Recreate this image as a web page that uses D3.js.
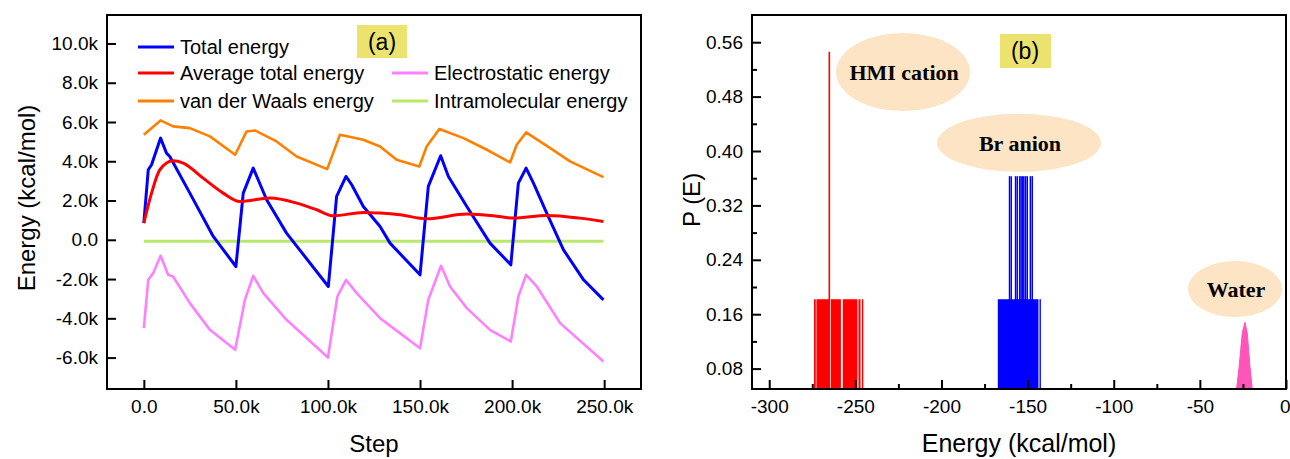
<!DOCTYPE html>
<html lang="en">
<head>
    <meta charset="UTF-8">
    <title>Energy and P(E)</title>
    <script src="https://d3js.org/d3.v7.min.js"></script>
    <style>
        body { margin: 0; background: #fff; }
        svg text { font-family: "Liberation Sans", Arial, sans-serif; fill: #000; }
        .serif { font-family: "Liberation Serif", "Times New Roman", serif; font-weight: bold; }
    </style>
</head>
<body>
<svg id="chart" width="1290" height="459"></svg>
<script>
    // ---- panel (a): energy vs step ----
    var totalSteps = [0, 2400, 4200, 9100, 12300, 14100, 25000, 37700, 50000, 54000, 59400, 66700, 77500, 100200, 104700, 109800, 112900, 119200, 128300, 133700, 150000, 154500, 161200, 165400, 175400, 188000, 199300, 203400, 207600, 211600, 218800, 227900, 238800, 249600];
    var totalEnergy = [851, 3567, 3822, 5180, 4416, 4246, 2378, 170, -1360, 2378, 3652, 2038, 340, -2378, 2208, 3227, 2803, 1699, 680, -170, -1784, 2718, 4280, 3227, 1699, -170, -1274, 2888, 3652, 2888, 1359, -510, -2038, -3058];

    var avgSteps = [0, 4200, 8700, 15900, 21400, 32200, 43100, 52200, 68500, 83000, 93900, 102900, 119200, 128300, 139100, 153600, 175400, 189800, 200700, 218800, 236900, 249600];
    var avgEnergy = [851, 2378, 3567, 4026, 3907, 3142, 2378, 1954, 2123, 1868, 1529, 1223, 1393, 1359, 1274, 1070, 1308, 1223, 1104, 1240, 1104, 934];

    var vdwSteps = [0, 9100, 15900, 25000, 35900, 49600, 55800, 60300, 72100, 83000, 99600, 106500, 119200, 128300, 137300, 149600, 153600, 160500, 173600, 186300, 198900, 202500, 207600, 220700, 231500, 249600];
    var vdwEnergy = [5350, 6080, 5776, 5690, 5266, 4332, 5520, 5571, 5010, 4246, 3601, 5350, 5096, 4755, 4077, 3737, 4755, 5641, 5180, 4587, 3941, 4841, 5469, 4671, 3992, 3193];

    var elecSteps = [0, 2400, 5100, 9100, 13200, 15900, 25000, 35900, 49600, 54900, 59400, 64900, 77500, 100000, 105100, 109800, 115600, 128300, 139100, 150000, 154500, 161400, 166300, 175400, 188000, 199300, 203400, 207600, 213400, 226100, 249600];
    var elecEnergy = [-4501, -2038, -1699, -815, -1784, -1869, -3227, -4587, -5606, -3058, -1835, -2718, -4077, -5997, -2888, -2038, -2718, -3992, -4755, -5521, -3058, -1325, -2378, -3482, -4587, -5181, -2888, -1784, -2378, -4246, -6201];

    var intraSteps = [0, 50000, 100000, 150000, 200000, 249600];
    var intraEnergy = [-80, -80, -80, -80, -80, -80];

    var stepTicks = [0, 50000, 100000, 150000, 200000, 250000];
    var energyTicks = [-6000, -4000, -2000, 0, 2000, 4000, 6000, 8000, 10000];

    // ---- panel (b): P(E) distributions ----
    var hmiBins = [[-274.0, -273.0], [-272.6, -264.8], [-264.2, -258.4], [-257.3, -248.8], [-248.2, -247.0], [-246.2, -245.4]];
    var hmiP = 0.182;
    var hmiPeakE = [-265.1];
    var hmiPeakP = 0.546;

    var brBins = [[-167.3, -143.7], [-143.1, -142.3]];
    var brP = 0.182;
    var brSticks = [-160.5, -159.5, -157.0, -156.0, -154.6, -153.8, -153.0, -152.2, -151.2, -150.2, -148.4, -147.3];
    var brStickP = 0.363;

    var waterE = [-28.7, -27.2, -25.4, -23.8, -22.5, -20.9, -19.6];
    var waterP = [0.05, 0.083, 0.1325, 0.148, 0.1325, 0.083, 0.05];

    var pTicks = [0.08, 0.16, 0.24, 0.32, 0.40, 0.48, 0.56];
    var pMinor = [0.12, 0.20, 0.28, 0.36, 0.44, 0.52];
    var eTicks = [-300, -250, -200, -150, -100, -50, 0];
    var eMinor = [-275, -225, -175, -125, -75, -25];

    var svg = d3.select("#chart");

    // ===== panel (a) =====
    var x1 = d3.scaleLinear().domain([-20000, 270000]).range([107, 641]);
    var y1 = d3.scaleLinear().domain([-7600, 11450]).range([389, 15]);

    function kFormat(v) {
        return v === 0 ? "0.0" : (v / 1000).toFixed(1) + "k";
    }

    var gA = svg.append("g");

    // axes with inward ticks
    gA.append("g")
        .attr("transform", "translate(" + x1.range()[0] + ",0)")
        .call(d3.axisLeft(y1).tickValues(energyTicks).tickFormat(kFormat).tickSize(-9).tickPadding(9))
        .call(g => g.select(".domain").remove());
    gA.append("g")
        .attr("transform", "translate(0," + y1.range()[0] + ")")
        .call(d3.axisBottom(x1).tickValues(stepTicks).tickFormat(kFormat).tickSize(-9).tickPadding(11))
        .call(g => g.select(".domain").remove());

    gA.selectAll(".tick line").attr("stroke", "#000").attr("stroke-width", 2);
    gA.selectAll(".tick text").style("font-size", "19px");

    var series = [
        { steps: vdwSteps, vals: vdwEnergy, color: "#ff8000", w: 2.6, curve: d3.curveLinear },
        { steps: elecSteps, vals: elecEnergy, color: "#ff80ff", w: 2.6, curve: d3.curveLinear },
        { steps: intraSteps, vals: intraEnergy, color: "#b9e86b", w: 3, curve: d3.curveLinear },
        { steps: totalSteps, vals: totalEnergy, color: "#0000ff", w: 3, curve: d3.curveLinear },
        { steps: avgSteps, vals: avgEnergy, color: "#ff0000", w: 3, curve: d3.curveMonotoneX }
    ];

    series.forEach(s => {
        var line = d3.line()
            .x((d, i) => x1(s.steps[i]))
            .y(d => y1(d))
            .curve(s.curve);
        gA.append("path")
            .datum(s.vals)
            .attr("d", line)
            .attr("fill", "none")
            .attr("stroke", s.color)
            .attr("stroke-width", s.w)
            .attr("stroke-linejoin", "round");
    });

    // frame
    gA.append("rect")
        .attr("x", x1.range()[0]).attr("y", y1.range()[1])
        .attr("width", x1.range()[1] - x1.range()[0])
        .attr("height", y1.range()[0] - y1.range()[1])
        .attr("fill", "none").attr("stroke", "#000").attr("stroke-width", 2);

    // legend
    var legendA = [
        { label: "Total energy", color: "#0000ff", x: 138, y: 47 },
        { label: "Average total energy", color: "#ff0000", x: 138, y: 73 },
        { label: "van der Waals energy", color: "#ff8000", x: 138, y: 101 },
        { label: "Electrostatic energy", color: "#ff80ff", x: 392, y: 73 },
        { label: "Intramolecular energy", color: "#b9e86b", x: 392, y: 101 }
    ];
    legendA.forEach(d => {
        gA.append("line")
            .attr("x1", d.x).attr("x2", d.x + 36)
            .attr("y1", d.y).attr("y2", d.y)
            .attr("stroke", d.color).attr("stroke-width", 3);
        gA.append("text")
            .attr("x", d.x + 42).attr("y", d.y + 7)
            .style("font-size", "20px")
            .text(d.label);
    });

    // (a) tag
    gA.append("rect").attr("x", 357).attr("y", 25).attr("width", 50).attr("height", 33).attr("fill", "#ebe36e");
    gA.append("text").attr("x", 382).attr("y", 50).attr("text-anchor", "middle").style("font-size", "23px").text("(a)");

    // axis titles
    gA.append("text")
        .attr("transform", "translate(35,198) rotate(-90)")
        .attr("text-anchor", "middle")
        .style("font-size", "24px")
        .text("Energy (kcal/mol)");
    gA.append("text")
        .attr("x", 374).attr("y", 452)
        .attr("text-anchor", "middle")
        .style("font-size", "24px")
        .text("Step");

    // ===== panel (b) =====
    var x2 = d3.scaleLinear().domain([-310, 0]).range([752, 1286]);
    var y2 = d3.scaleLinear().domain([0.05, 0.60]).range([389, 15]);

    var gB = svg.append("g");

    // ellipses behind data
    var notes = [
        { text: "HMI cation", e: -222.3, p: 0.516, rx: 67, ry: 39 },
        { text: "Br anion", e: -155.0, p: 0.412, rx: 82, ry: 29 },
        { text: "Water", e: -29.6, p: 0.197, rx: 47, ry: 28 }
    ];
    notes.forEach(n => {
        gB.append("ellipse")
            .attr("cx", x2(n.e)).attr("cy", y2(n.p))
            .attr("rx", n.rx).attr("ry", n.ry)
            .attr("fill", "#fce4c4");
        gB.append("text")
            .attr("class", "serif")
            .attr("x", x2(n.e) + 1).attr("y", y2(n.p) + 8)
            .attr("text-anchor", "middle")
            .style("font-size", "22px")
            .text(n.text);
    });

    // HMI cation bins
    gB.selectAll(".hmi").data(hmiBins).enter().append("rect")
        .attr("x", d => x2(d[0]))
        .attr("width", d => x2(d[1]) - x2(d[0]))
        .attr("y", y2(hmiP))
        .attr("height", y2(0.05) - y2(hmiP))
        .attr("fill", "#ff0000");
    gB.selectAll(".hmiPeak").data(hmiPeakE).enter().append("line")
        .attr("x1", d => x2(d)).attr("x2", d => x2(d))
        .attr("y1", y2(0.05)).attr("y2", y2(hmiPeakP))
        .attr("stroke", "#ff0000").attr("stroke-width", 1.6);

    // Br anion bins
    gB.selectAll(".br").data(brBins).enter().append("rect")
        .attr("x", d => x2(d[0]))
        .attr("width", d => x2(d[1]) - x2(d[0]))
        .attr("y", y2(brP))
        .attr("height", y2(0.05) - y2(brP))
        .attr("fill", "#0000ff");
    gB.selectAll(".brStick").data(brSticks).enter().append("line")
        .attr("x1", d => x2(d)).attr("x2", d => x2(d))
        .attr("y1", y2(0.05)).attr("y2", y2(brStickP))
        .attr("stroke", "#0000ff").attr("stroke-width", 1.5);

    // Water peak
    var waterArea = d3.area()
        .x((d, i) => x2(waterE[i]))
        .y0(y2(0.05))
        .y1(d => y2(d));
    gB.append("path")
        .datum(waterP)
        .attr("d", waterArea)
        .attr("fill", "#ff55b8")
        .attr("stroke", "#ff55b8")
        .attr("stroke-width", 1);

    // axes (plain hyphen minus, as in the original)
    function plainNum(v) {
        return String(v);
    }
    gB.append("g")
        .attr("transform", "translate(" + x2.range()[0] + ",0)")
        .call(d3.axisLeft(y2).tickValues(pTicks).tickFormat(d => d.toFixed(2)).tickSize(-9).tickPadding(9))
        .call(g => g.select(".domain").remove());
    gB.append("g")
        .attr("transform", "translate(" + x2.range()[0] + ",0)")
        .call(d3.axisLeft(y2).tickValues(pMinor).tickFormat("").tickSize(-5))
        .call(g => g.select(".domain").remove());
    var bx = gB.append("g")
        .attr("transform", "translate(0," + y2.range()[0] + ")")
        .call(d3.axisBottom(x2).tickValues(eTicks).tickFormat(plainNum).tickSize(-9).tickPadding(11))
        .call(g => g.select(".domain").remove());
    gB.append("g")
        .attr("transform", "translate(0," + y2.range()[0] + ")")
        .call(d3.axisBottom(x2).tickValues(eMinor).tickFormat("").tickSize(-5))
        .call(g => g.select(".domain").remove());

    gB.selectAll(".tick line").attr("stroke", "#000").attr("stroke-width", 2);
    gB.selectAll(".tick text").style("font-size", "19px");
    // keep the last label inside the picture
    bx.selectAll(".tick text").filter(d => d === 0)
        .attr("text-anchor", "end").attr("dx", "4");

    gB.append("rect")
        .attr("x", x2.range()[0]).attr("y", y2.range()[1])
        .attr("width", x2.range()[1] - x2.range()[0])
        .attr("height", y2.range()[0] - y2.range()[1])
        .attr("fill", "none").attr("stroke", "#000").attr("stroke-width", 2);

    // (b) tag
    gB.append("rect").attr("x", 1000).attr("y", 34).attr("width", 51).attr("height", 34).attr("fill", "#ebe36e");
    gB.append("text").attr("x", 1025).attr("y", 59).attr("text-anchor", "middle").style("font-size", "23px").text("(b)");

    gB.append("text")
        .attr("transform", "translate(700,200) rotate(-90)")
        .attr("text-anchor", "middle")
        .style("font-size", "24px")
        .text("P (E)");
    gB.append("text")
        .attr("x", 1019).attr("y", 452)
        .attr("text-anchor", "middle")
        .style("font-size", "25px")
        .text("Energy (kcal/mol)");
</script>
</body>
</html>
